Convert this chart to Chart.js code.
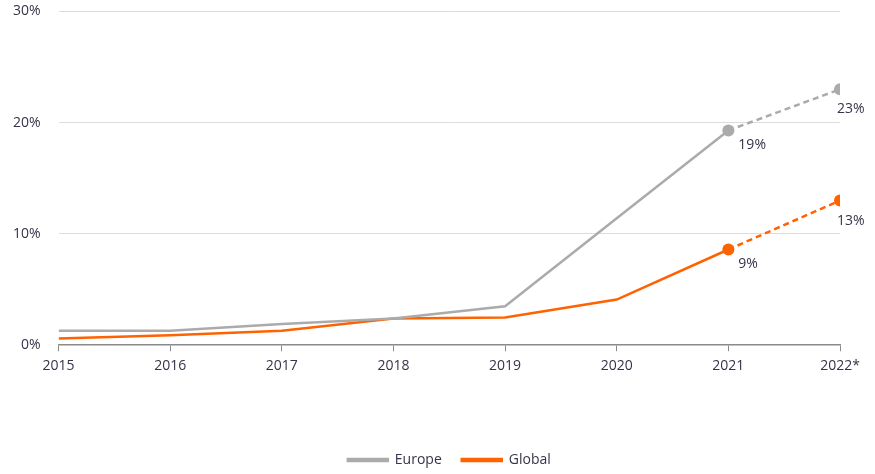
<!DOCTYPE html>
<html>
<head>
<meta charset="utf-8">
<script src="https://cdn.jsdelivr.net/npm/chart.js@4"></script>
<style>
  html, body { margin: 0; padding: 0; background: #fff; }
  #wrap { width: 875px; height: 474px; }
</style>
</head>
<body>
<div id="wrap"><canvas id="chartShare"></canvas></div>
<script>
// share in %, 2022 is a forecast (dashed part)
const years = ['2015', '2016', '2017', '2018', '2019', '2020', '2021', '2022*'];
const europe = [1.3, 1.3, 1.9, 2.4, 3.5, 11.4, 19.3, 23.0];
const global = [0.6, 0.9, 1.3, 2.4, 2.5, 4.1, 8.6, 13.0];
const europeLabels = [null, null, null, null, null, null, '19%', '23%'];
const globalLabels = [null, null, null, null, null, null, '9%', '13%'];
const yTicks = [0, 10, 20, 30];

const grey = '#ababab';
const orange = '#ff6200';
const textColor = '#34344a';
const fontFamily = "'Open Sans', 'DejaVu Sans', sans-serif";

const markers = [0, 0, 0, 0, 0, 0, 6, 6];
const dashLast = ctx => ctx.p0DataIndex === 6 ? [6, 4] : undefined;

// value labels next to the last two points
const valueLabels = {
    id: 'valueLabels',
    afterDatasetsDraw(chart) {
        const ctx = chart.ctx;
        const sets = [europeLabels, globalLabels];
        ctx.save();
        ctx.font = '14px ' + fontFamily;
        ctx.fillStyle = textColor;
        ctx.textAlign = 'left';
        ctx.textBaseline = 'middle';
        sets.forEach((labels, d) => {
            const meta = chart.getDatasetMeta(d);
            labels.forEach((txt, i) => {
                if (!txt) return;
                const p = meta.data[i];
                const dx = i === 7 ? -3 : 10;
                const dy = i === 7 ? 20 : 15;
                ctx.fillText(txt, p.x + dx, p.y + dy);
            });
        });
        ctx.restore();
    }
};

// centre the legend under the plot area rather than the whole canvas
const legendUnderPlot = {
    id: 'legendUnderPlot',
    afterLayout(chart) {
        const lg = chart.legend;
        if (!lg) return;
        lg.left = chart.chartArea.left;
        lg.right = chart.chartArea.right;
        lg.width = lg.right - lg.left;
    }
};

const ctxShare = document.getElementById('chartShare').getContext('2d');
const chartShare = new Chart(ctxShare, {
    type: 'line',
    data: {
        labels: years,
        datasets: [{
            label: 'Europe',
            data: europe,
            borderColor: grey,
            backgroundColor: grey,
            borderWidth: 2.5,
            pointRadius: markers,
            pointBackgroundColor: grey,
            pointBorderWidth: 0,
            tension: 0,
            clip: 0,
            segment: { borderDash: dashLast }
        }, {
            label: 'Global',
            data: global,
            borderColor: orange,
            backgroundColor: orange,
            borderWidth: 2.5,
            pointRadius: markers,
            pointBackgroundColor: orange,
            pointBorderWidth: 0,
            tension: 0,
            clip: 0,
            segment: { borderDash: dashLast }
        }]
    },
    options: {
        responsive: true,
        maintainAspectRatio: false,
        animation: false,
        layout: { padding: { left: 10, right: 35, top: 0, bottom: 0 } },
        scales: {
            x: {
                offset: false,
                grid: {
                    drawOnChartArea: false,
                    color: '#8a8a8a',
                    tickLength: 6
                },
                border: { color: '#8a8a8a', width: 1.5 },
                ticks: {
                    color: textColor,
                    font: { family: fontFamily, size: 14 },
                    maxRotation: 0,
                    padding: 6
                },
                afterFit(scale) { scale.height += 53; }
            },
            y: {
                min: 0,
                max: 30,
                afterBuildTicks(scale) {
                    scale.ticks = yTicks.map(v => ({ value: v }));
                },
                grid: {
                    color: ctx => ctx.tick.value === 0 ? 'rgba(0,0,0,0)' : '#dcdcdc',
                    tickColor: 'rgba(0,0,0,0)',
                    tickLength: 15
                },
                border: { display: false },
                ticks: {
                    color: textColor,
                    font: { family: fontFamily, size: 14 },
                    padding: 3,
                    callback: v => v + '%'
                }
            }
        },
        plugins: {
            legend: {
                position: 'bottom',
                maxHeight: 41,
                labels: {
                    color: textColor,
                    font: { family: fontFamily, size: 14 },
                    boxWidth: 40,
                    boxHeight: 2,
                    padding: 20
                }
            },
            tooltip: { enabled: false }
        }
    },
    plugins: [valueLabels, legendUnderPlot]
});
</script>
</body>
</html>
